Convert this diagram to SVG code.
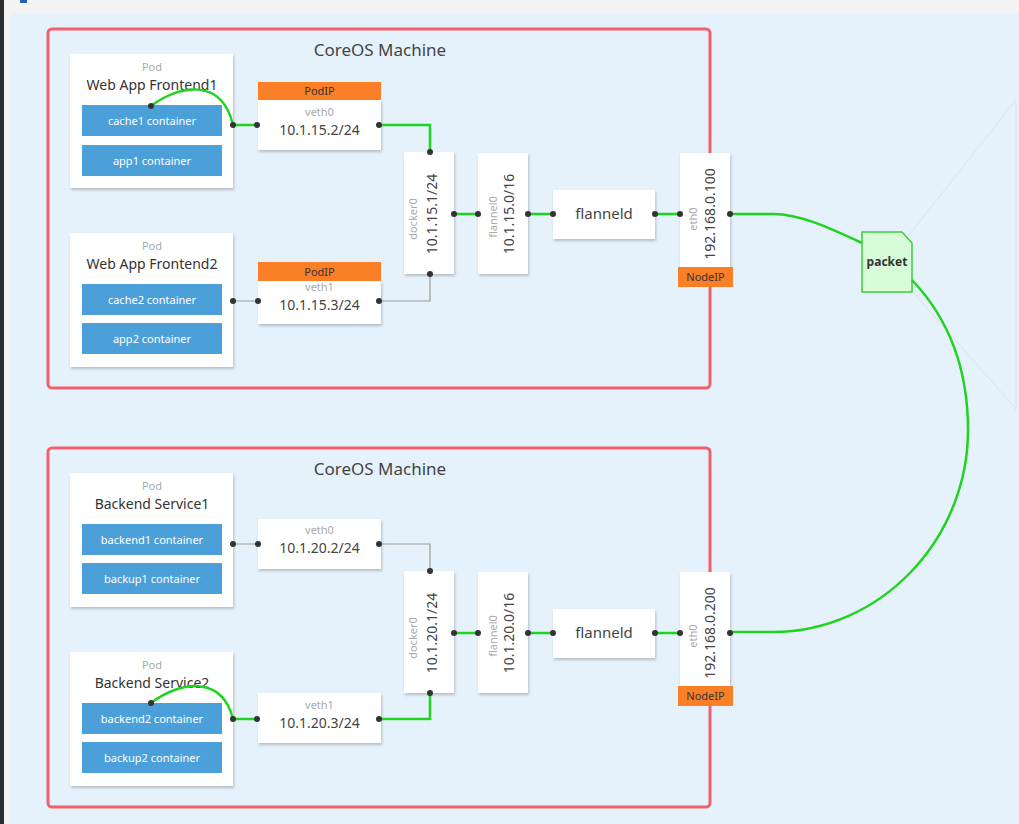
<svg xmlns="http://www.w3.org/2000/svg" width="1019" height="824" viewBox="0 0 1019 824">
<style>
text{font-family:"Noto Sans","Open Sans",sans-serif}
.machine{fill:none;stroke:#f0606e;stroke-width:3}
.title{font-size:17px;fill:#444;text-anchor:middle}
.box{fill:#fff;filter:url(#sh)}
.pod{font-size:11px;fill:#aaa;text-anchor:middle}
.name{font-size:14px;fill:#333;text-anchor:middle}
.fd{font-size:15px;fill:#444;text-anchor:middle}
.ctr{fill:#4ca0da}
.ctrt{font-size:11px;fill:#fff;text-anchor:middle}
.tag{fill:#fb7f26}
.tagt{font-size:11px;fill:#333;text-anchor:middle}
.lbl{font-size:11px;fill:#aaa;text-anchor:middle}
.ip{font-size:14px;fill:#444;text-anchor:middle}
.green{fill:none;stroke:#1ed41e;stroke-width:2.5}
.gray{fill:none;stroke:#999;stroke-width:1.2}
.dot{fill:#333}
.faint{fill:none;stroke:#dde2e6;stroke-width:1}
</style>
<defs>
<filter id="sh" x="-10%" y="-10%" width="130%" height="130%">
<feDropShadow dx="1" dy="2" stdDeviation="1.5" flood-color="#000" flood-opacity="0.22"/>
</filter>
</defs>
<rect x="0" y="0" width="1019" height="824" fill="#e6f2fb"/>
<rect x="0" y="0" width="1019" height="13" fill="#f3f3f3"/>
<rect x="0" y="0" width="10" height="824" fill="#f3f3f3"/>
<rect x="0" y="0" width="4" height="824" fill="#2d2d2d"/>
<rect x="20" y="0" width="7" height="3" fill="#2b5fb5"/>
<path class="faint" d="M1016 100 V410 M1016 100 L908 236 M912 291 L1016 409"/>

<g id="machine1">
<rect class="machine" x="48" y="29" width="662" height="359" rx="4"/>
<text class="title" x="380" y="56">CoreOS Machine</text>
</g>
<g id="machine2">
<rect class="machine" x="48" y="448" width="662" height="359" rx="4"/>
<text class="title" x="380" y="475">CoreOS Machine</text>
</g>

<g id="pod-frontend1">
<rect class="box" x="70" y="54" width="163" height="134"/>
<text class="pod" x="152" y="71">Pod</text>
<text class="name" x="152" y="90">Web App Frontend1</text>
<rect class="ctr" x="82" y="105" width="140" height="31"/>
<text class="ctrt" x="152" y="124.5">cache1 container</text>
<rect class="ctr" x="82" y="145" width="140" height="31"/>
<text class="ctrt" x="152" y="164.5">app1 container</text>
</g>
<g id="pod-frontend2">
<rect class="box" x="70" y="233" width="163" height="134"/>
<text class="pod" x="152" y="250">Pod</text>
<text class="name" x="152" y="269">Web App Frontend2</text>
<rect class="ctr" x="82" y="284" width="140" height="31"/>
<text class="ctrt" x="152" y="303.5">cache2 container</text>
<rect class="ctr" x="82" y="323" width="140" height="31"/>
<text class="ctrt" x="152" y="342.5">app2 container</text>
</g>
<g id="pod-backend1">
<rect class="box" x="70" y="473" width="163" height="134"/>
<text class="pod" x="152" y="490">Pod</text>
<text class="name" x="152" y="509">Backend Service1</text>
<rect class="ctr" x="82" y="524" width="140" height="31"/>
<text class="ctrt" x="152" y="543.5">backend1 container</text>
<rect class="ctr" x="82" y="563" width="140" height="31"/>
<text class="ctrt" x="152" y="582.5">backup1 container</text>
</g>
<g id="pod-backend2">
<rect class="box" x="70" y="652" width="163" height="134"/>
<text class="pod" x="152" y="669">Pod</text>
<text class="name" x="152" y="688">Backend Service2</text>
<rect class="ctr" x="82" y="703" width="140" height="31"/>
<text class="ctrt" x="152" y="722.5">backend2 container</text>
<rect class="ctr" x="82" y="742" width="140" height="31"/>
<text class="ctrt" x="152" y="761.5">backup2 container</text>
</g>

<g id="veth0-top">
<rect class="box" x="258" y="100" width="123" height="50"/>
<rect class="tag" x="258" y="82" width="123" height="18"/>
<text class="tagt" x="319.5" y="95">PodIP</text>
<text class="lbl" x="319.5" y="116">veth0</text>
<text class="ip" x="319.5" y="135">10.1.15.2/24</text>
</g>
<g id="veth1-top">
<rect class="box" x="258" y="281" width="123" height="43"/>
<rect class="tag" x="258" y="262" width="123" height="19"/>
<text class="tagt" x="319.5" y="275.5">PodIP</text>
<text class="lbl" x="319.5" y="291">veth1</text>
<text class="ip" x="319.5" y="310">10.1.15.3/24</text>
</g>
<g id="veth0-bottom">
<rect class="box" x="258" y="519" width="123" height="50"/>
<text class="lbl" x="319.5" y="534">veth0</text>
<text class="ip" x="319.5" y="553">10.1.20.2/24</text>
</g>
<g id="veth1-bottom">
<rect class="box" x="258" y="693" width="123" height="50"/>
<text class="lbl" x="319.5" y="709">veth1</text>
<text class="ip" x="319.5" y="728">10.1.20.3/24</text>
</g>

<g id="docker0-top">
<rect class="box" x="404" y="152" width="50" height="122"/>
<text class="lbl" transform="translate(417,219) rotate(-90)">docker0</text>
<text class="ip" transform="translate(437,214) rotate(-90)">10.1.15.1/24</text>
</g>
<g id="flannel0-top">
<rect class="box" x="478" y="153" width="50" height="121"/>
<text class="lbl" transform="translate(497,217) rotate(-90)">flannel0</text>
<text class="ip" transform="translate(514,214) rotate(-90)">10.1.15.0/16</text>
</g>
<g id="flanneld-top">
<rect class="box" x="553" y="190" width="102" height="49"/>
<text class="fd" x="604" y="219">flanneld</text>
</g>
<g id="eth0-top">
<rect class="box" x="680" y="153" width="50" height="114"/>
<rect class="tag" x="678" y="267" width="55" height="20"/>
<text class="tagt" x="705.5" y="281">NodeIP</text>
<text class="lbl" transform="translate(697,219) rotate(-90)">eth0</text>
<text class="ip" transform="translate(715,214) rotate(-90)">192.168.0.100</text>
</g>

<g id="docker0-bottom">
<rect class="box" x="404" y="571" width="50" height="122"/>
<text class="lbl" transform="translate(417,638) rotate(-90)">docker0</text>
<text class="ip" transform="translate(437,633) rotate(-90)">10.1.20.1/24</text>
</g>
<g id="flannel0-bottom">
<rect class="box" x="478" y="572" width="50" height="121"/>
<text class="lbl" transform="translate(497,636) rotate(-90)">flannel0</text>
<text class="ip" transform="translate(514,633) rotate(-90)">10.1.20.0/16</text>
</g>
<g id="flanneld-bottom">
<rect class="box" x="553" y="609" width="102" height="49"/>
<text class="fd" x="604" y="638">flanneld</text>
</g>
<g id="eth0-bottom">
<rect class="box" x="680" y="572" width="50" height="114"/>
<rect class="tag" x="678" y="686" width="55" height="20"/>
<text class="tagt" x="705.5" y="700">NodeIP</text>
<text class="lbl" transform="translate(697,636) rotate(-90)">eth0</text>
<text class="ip" transform="translate(715,633) rotate(-90)">192.168.0.200</text>
</g>

<g id="packet">
<path d="M862 232 H902 L912 243 V292 H862 Z" fill="#d8fbd8" stroke="#3bd03b" stroke-width="1.5"/>
<text x="887" y="266" font-size="12" font-weight="bold" fill="#333" text-anchor="middle">packet</text>
</g>

<g id="connectors">
<path class="green" d="M151 106 C180 84 222 78 233 125 H257"/>
<path class="green" d="M379 125 H430 V152"/>
<path class="green" d="M454 214 H478 M528 214 H553 M655 214 H680"/>
<path class="green" d="M730 214 H773 C800 214 830 228 862 243"/>
<path class="green" d="M912 280 C950 320 968 370 968 430 C968 540 880 632 773 632 H730"/>
<path class="green" d="M151 703 C180 681 222 675 233 719 H257"/>
<path class="green" d="M379 719 H430 V693"/>
<path class="green" d="M454 633 H478 M528 633 H553 M655 633 H680"/>
<path class="gray" d="M233 301 H258 M379 301 H430 V274"/>
<path class="gray" d="M233 544 H258 M379 544 H430 V571"/>
<g class="dot">
<circle cx="151" cy="106" r="3"/><circle cx="233" cy="125" r="3"/><circle cx="257" cy="125" r="3"/><circle cx="379" cy="125" r="3"/><circle cx="430" cy="152" r="3"/>
<circle cx="454" cy="214" r="3"/><circle cx="478" cy="214" r="3"/><circle cx="528" cy="214" r="3"/><circle cx="553" cy="214" r="3"/><circle cx="655" cy="214" r="3"/><circle cx="680" cy="214" r="3"/><circle cx="730" cy="214" r="3"/>
<circle cx="233" cy="301" r="3"/><circle cx="258" cy="301" r="3"/><circle cx="379" cy="301" r="3"/><circle cx="430" cy="274" r="3"/>
<circle cx="233" cy="544" r="3"/><circle cx="258" cy="544" r="3"/><circle cx="379" cy="544" r="3"/><circle cx="430" cy="571" r="3"/>
<circle cx="454" cy="633" r="3"/><circle cx="478" cy="633" r="3"/><circle cx="528" cy="633" r="3"/><circle cx="553" cy="633" r="3"/><circle cx="655" cy="633" r="3"/><circle cx="680" cy="633" r="3"/><circle cx="730" cy="633" r="3"/>
<circle cx="151" cy="703" r="3"/><circle cx="233" cy="719" r="3"/><circle cx="257" cy="719" r="3"/><circle cx="379" cy="719" r="3"/><circle cx="430" cy="693" r="3"/>
</g>
</g>
</svg>
